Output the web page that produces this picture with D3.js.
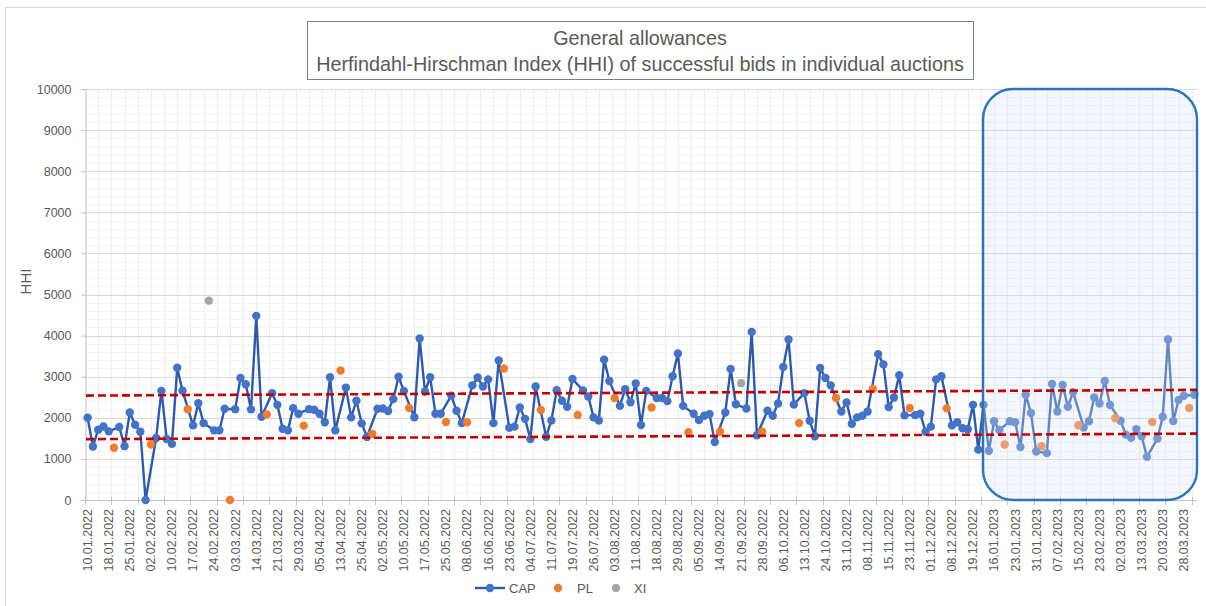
<!DOCTYPE html>
<html>
<head>
<meta charset="utf-8">
<script src="https://cdn.jsdelivr.net/npm/d3@7"></script>
<style>
  body { margin: 0; background: #fff; }
  svg { display: block; font-family: "Liberation Sans", Arial, sans-serif; }
</style>
</head>
<body>
<svg id="chart" width="1206" height="606"></svg>
<script>
// tick labels, one for every 4th auction
const tickLabels = [
  "10.01.2022", "18.01.2022", "25.01.2022", "02.02.2022", "10.02.2022", "17.02.2022",
  "24.02.2022", "03.03.2022", "14.03.2022", "21.03.2022", "29.03.2022", "05.04.2022",
  "13.04.2022", "25.04.2022", "02.05.2022", "10.05.2022", "17.05.2022", "25.05.2022",
  "08.06.2022", "16.06.2022", "23.06.2022", "04.07.2022", "11.07.2022", "19.07.2022",
  "26.07.2022", "03.08.2022", "11.08.2022", "18.08.2022", "29.08.2022", "05.09.2022",
  "14.09.2022", "21.09.2022", "28.09.2022", "06.10.2022", "13.10.2022", "24.10.2022",
  "31.10.2022", "08.11.2022", "15.11.2022", "23.11.2022", "01.12.2022", "08.12.2022",
  "19.12.2022", "16.01.2023", "23.01.2023", "31.01.2023", "07.02.2023", "15.02.2023",
  "23.02.2023", "02.03.2023", "13.03.2023", "20.03.2023", "28.03.2023"
];

// CAP auctions (null where the auction was PL or XI)
const capValues = [
  2000, 1300, 1710, 1790, 1670, null, 1775, 1310, 2130, 1830,
  1660, 0, null, 1510, 2655, 1485, 1365, 3220, 2660, null,
  1815, 2355, 1870, null, 1695, 1695, 2220, null, 2210, 2970,
  2815, 2205, 4480, 2025, null, 2600, 2315, 1735, 1695, 2235,
  2100, null, 2210, 2195, 2100, 1890, 2985, 1695, null, 2735,
  2010, 2415, 1865, 1535, null, 2220, 2225, 2165, 2455, 3000,
  2655, null, 2015, 3930, 2640, 2985, 2100, 2100, null, 2540,
  2170, 1870, null, 2790, 2980, 2760, 2935, 1870, 3395, null,
  1760, 1785, 2250, 1975, 1485, 2760, null, 1540, 1935, 2670,
  2415, 2270, 2945, null, 2665, 2520, 2010, 1935, 3415, 2895,
  null, 2290, 2695, 2380, 2835, 1825, 2655, null, 2480, 2480,
  2405, 3010, 3565, 2290, null, 2100, 1945, 2050, 2090, 1410,
  null, 2130, 3190, 2330, null, 2225, 4090, 1575, null, 2170,
  2050, 2350, 3235, 3905, 2325, null, 2600, 1930, 1550, 3210,
  2970, 2790, null, 2155, 2375, 1855, 2010, 2050, 2155, null,
  3550, 3300, 2260, 2495, 3035, 2060, null, 2065, 2100, 1660,
  1785, 2935, 3010, null, 1815, 1890, 1745, 1720, 2315, 1225,
  2315, 1200, 1915, 1705, null, 1915, 1890, 1290, 2560, 2115,
  1180, null, 1140, 2825, 2155, 2800, 2270, 2625, null, 1765,
  1915, 2495, 2350, 2895, 2310, null, 1930, 1590, 1515, 1725,
  1550, 1050, null, 1495, 2025, 3905, 1920, 2435, 2535, null,
  2560
];

// PL auctions: position in the auction sequence and HHI
const plIndex = [5, 12, 19, 27, 34, 41, 48, 54, 61, 68, 72, 79, 86, 93, 100,
  107, 114, 120, 128, 135, 142, 149, 156, 163, 174, 181, 188, 195, 202, 209];
const plValues = [1270, 1350, 2210, 0, 2080, 1810, 3150, 1610, 2240, 1900, 1890, 3200, 2190, 2070, 2480,
  2250, 1650, 1660, 1660, 1870, 2480, 2700, 2240, 2230, 1350, 1310, 1820, 1990, 1900, 2240];

// XI auctions
const xiIndex = [23, 124];
const xiValues = [4850, 2840];

// red dashed band (value at first and last auction)
const bandUpper = [2540, 2680];
const bandLower = [1480, 1615];

const yTicks = d3.range(0, 10001, 1000);

const svg = d3.select("#chart");
const plotL = 85, plotR = 1197, plotT = 89, plotB = 500;

const x = d3.scaleBand()
  .domain(d3.range(capValues.length))
  .range([plotL, plotR])
  .paddingInner(0).paddingOuter(0);
const bw = x.bandwidth();
const cx = i => x(i) + bw / 2;

const y = d3.scaleLinear()
  .domain([0, 10000])
  .range([plotB, plotT]);

// outer chart border
svg.append("rect")
  .attr("x", 5.5).attr("y", 7.5)
  .attr("width", 1206).attr("height", 606)
  .attr("fill", "none")
  .attr("stroke", "#d9d9d9");

// gridlines
const grid = svg.append("g");
grid.selectAll(".minorY")
  .data(d3.range(0, 10001, 200).filter(v => v % 1000 != 0))
  .join("line")
  .attr("x1", plotL).attr("x2", plotR)
  .attr("y1", d => Math.round(y(d)) + 0.5).attr("y2", d => Math.round(y(d)) + 0.5)
  .attr("stroke", "#f2f2f2");
grid.selectAll(".minorX")
  .data(d3.range(1, capValues.length / 2.5))
  .join("line")
  .attr("x1", d => Math.round(plotL + d * 2.5 * bw) + 0.5)
  .attr("x2", d => Math.round(plotL + d * 2.5 * bw) + 0.5)
  .attr("y1", plotT).attr("y2", plotB)
  .attr("stroke", "#ededed");
grid.selectAll(".majorY")
  .data(yTicks.slice(1))
  .join("line")
  .attr("x1", plotL).attr("x2", plotR)
  .attr("y1", d => Math.round(y(d)) + 0.5).attr("y2", d => Math.round(y(d)) + 0.5)
  .attr("stroke", "#d9d9d9");

// Y axis
const yAxis = svg.append("g")
  .attr("transform", `translate(${plotL + 0.5},0)`)
  .call(d3.axisLeft(y).tickValues(yTicks).tickFormat(d3.format("d")).tickSize(4).tickPadding(10));
yAxis.select(".domain").attr("stroke", "#bfbfbf");
yAxis.selectAll(".tick line").attr("stroke", "#bfbfbf");
yAxis.selectAll("text")
  .attr("fill", "#595959")
  .style("font-size", "12.5px");

svg.append("text")
  .attr("transform", `translate(31,${(plotT + plotB) / 2 - 13}) rotate(-90)`)
  .attr("text-anchor", "middle")
  .attr("fill", "#595959")
  .style("font-size", "15px")
  .text("HHI");

// X axis: ticks every 5 auctions, labels every 4
const xAxis = svg.append("g");
xAxis.append("line")
  .attr("x1", plotL).attr("x2", plotR)
  .attr("y1", plotB + 0.5).attr("y2", plotB + 0.5)
  .attr("stroke", "#bfbfbf");
xAxis.selectAll(".xtick")
  .data(d3.range(0, capValues.length, 5))
  .join("line")
  .attr("x1", d => Math.round(x(d)) + 0.5).attr("x2", d => Math.round(x(d)) + 0.5)
  .attr("y1", plotB - 3).attr("y2", plotB + 5)
  .attr("stroke", "#bfbfbf");
xAxis.selectAll(".xlabel")
  .data(tickLabels)
  .join("text")
  .attr("transform", (d, j) => `translate(${cx(j * 4)},${plotB + 9}) rotate(-90)`)
  .attr("text-anchor", "end")
  .attr("dy", "0.35em")
  .attr("fill", "#595959")
  .style("font-size", "12.5px")
  .text(d => d);

// CAP line
const capPoints = capValues.map((v, i) => ({ i: i, v: v })).filter(d => d.v !== null);
svg.append("path")
  .datum(capPoints)
  .attr("fill", "none")
  .attr("stroke", "#2f5aa8")
  .attr("stroke-width", 2.4)
  .attr("stroke-linejoin", "round")
  .attr("d", d3.line().x(d => cx(d.i)).y(d => y(d.v)));

// markers
svg.append("g").selectAll("circle")
  .data(capPoints)
  .join("circle")
  .attr("cx", d => cx(d.i)).attr("cy", d => y(d.v))
  .attr("r", 4.2)
  .attr("fill", "#4472c4");
svg.append("g").selectAll("circle")
  .data(plIndex.map((i, k) => ({ i: i, v: plValues[k] })))
  .join("circle")
  .attr("cx", d => cx(d.i)).attr("cy", d => y(d.v))
  .attr("r", 4.2)
  .attr("fill", "#ed7d31");
svg.append("g").selectAll("circle")
  .data(xiIndex.map((i, k) => ({ i: i, v: xiValues[k] })))
  .join("circle")
  .attr("cx", d => cx(d.i)).attr("cy", d => y(d.v))
  .attr("r", 4.2)
  .attr("fill", "#a5a5a5");

// highlighted 2023 period
const hlX = x(170) + 0.4 * bw;
svg.append("rect")
  .attr("x", hlX).attr("y", plotT)
  .attr("width", plotR - hlX).attr("height", plotB - plotT)
  .attr("rx", 30).attr("ry", 30)
  .attr("fill", "#dae3f3")
  .attr("fill-opacity", 0.32)
  .attr("stroke", "#2e75b6")
  .attr("stroke-width", 2.4);

// dashed band
[bandUpper, bandLower].forEach(b => {
  svg.append("line")
    .attr("x1", plotL + 1).attr("x2", plotR)
    .attr("y1", y(b[0])).attr("y2", y(b[1]))
    .attr("stroke", "#c00000")
    .attr("stroke-width", 2.6)
    .attr("stroke-dasharray", "8,4");
});

// title box
svg.append("rect")
  .attr("x", 307.5).attr("y", 21.5)
  .attr("width", 666).attr("height", 58)
  .attr("fill", "#fff")
  .attr("stroke", "#7f7f7f");
svg.append("text")
  .attr("x", 640).attr("y", 45)
  .attr("text-anchor", "middle")
  .attr("fill", "#595959")
  .style("font-size", "19.8px")
  .text("General allowances");
svg.append("text")
  .attr("x", 640).attr("y", 71)
  .attr("text-anchor", "middle")
  .attr("fill", "#595959")
  .style("font-size", "19.8px")
  .text("Herfindahl-Hirschman Index (HHI) of successful bids in individual auctions");

// legend
const lg = svg.append("g").attr("transform", "translate(0,588)");
lg.append("line").attr("x1", 475).attr("x2", 505).attr("stroke", "#2f5aa8").attr("stroke-width", 2.4);
lg.append("circle").attr("cx", 490).attr("r", 4.2).attr("fill", "#4472c4");
lg.append("circle").attr("cx", 558).attr("r", 4.2).attr("fill", "#ed7d31");
lg.append("circle").attr("cx", 616).attr("r", 4.2).attr("fill", "#a5a5a5");
[["CAP", 509], ["PL", 577], ["XI", 634]].forEach(t => {
  lg.append("text")
    .attr("x", t[1]).attr("dy", "0.35em")
    .attr("fill", "#595959")
    .style("font-size", "13px")
    .text(t[0]);
});
</script>
</body>
</html>
